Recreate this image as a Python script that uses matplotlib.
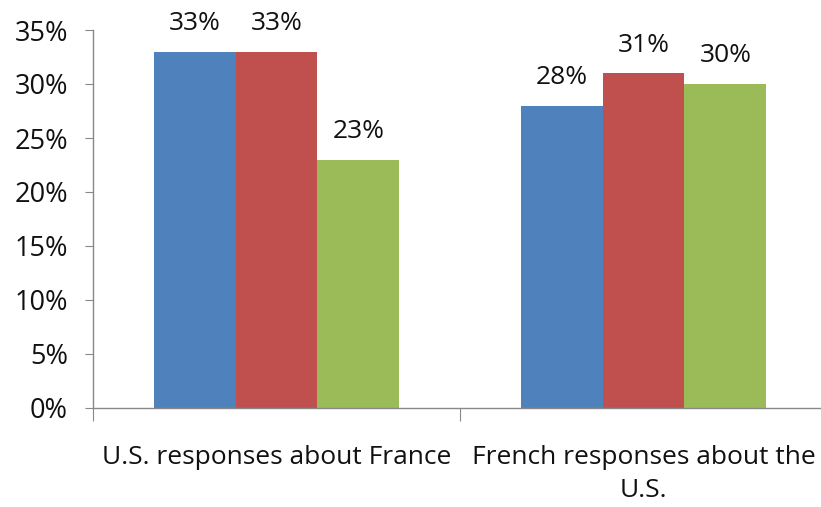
import numpy as np
import matplotlib
matplotlib.use('Agg')
import matplotlib.pyplot as plt
from matplotlib.ticker import FuncFormatter, FixedLocator

categories = ['U.S. responses about France', 'French responses about the\nU.S.']
series_a = [0.33, 0.28]
series_b = [0.33, 0.31]
series_c = [0.23, 0.30]
colors = ['#4F81BD', '#C0504D', '#9BBB59']

plt.rcParams['font.family'] = ['Open Sans', 'DejaVu Sans']
FS = 19

W, H = 821, 507
fig = plt.figure(figsize=(W / 100, H / 100), dpi=100)
ax = fig.add_axes([93 / W, (H - 408) / H, 734 / W, 378 / H])

x = np.arange(len(categories))
width = 0.223
for i, (vals, c) in enumerate(zip([series_a, series_b, series_c], colors)):
    bars = ax.bar(x + (i - 1) * width, vals, width, color=c, linewidth=0)
    for b, v in zip(bars, vals):
        ax.text(b.get_x() + b.get_width() / 2, v + 0.0145, f'{v * 100:.0f}%',
                ha='center', va='bottom', fontsize=FS, color='#111111')

ax.set_xlim(-0.5, len(categories) - 0.5)
ax.set_ylim(0, 0.35)
ax.set_yticks(np.arange(0, 0.351, 0.05))
ax.yaxis.set_major_formatter(FuncFormatter(lambda v, p: f'{v * 100:.0f}%'))

ax.xaxis.set_major_locator(FixedLocator([-0.5, 0.5, 1.5]))
ax.set_xticklabels([])
ax.xaxis.set_minor_locator(FixedLocator(x))
ax.set_xticklabels(categories, minor=True, linespacing=1.4)
ax.tick_params(axis='x', which='major', length=9, color='#888888', direction='out')
ax.tick_params(axis='x', which='minor', length=0, pad=27, labelsize=FS, labelcolor='#111111')
ax.tick_params(axis='y', length=6, color='#888888', labelsize=19.5, labelcolor='#111111', pad=12)

for s in ['top', 'right']:
    ax.spines[s].set_visible(False)
for s in ['left', 'bottom']:
    ax.spines[s].set_color('#888888')
    ax.spines[s].set_linewidth(1)

fig.savefig('out.png', dpi=100)
